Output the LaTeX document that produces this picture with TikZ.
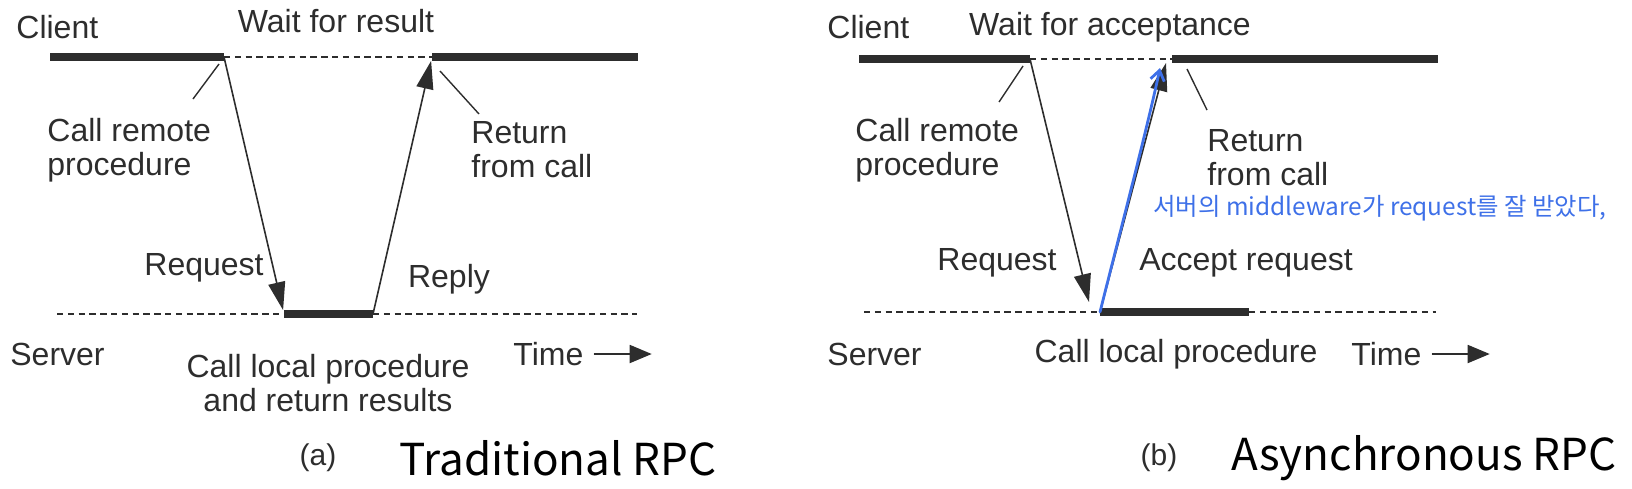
\documentclass[tikz,border=0pt]{standalone}
\usepackage{fontspec}
\setmainfont{Liberation Sans}
\newfontfamily\krfont{Noto Sans CJK KR}
\usetikzlibrary{arrows.meta, calc}
\definecolor{inkgray}{RGB}{45,45,45}
\definecolor{penblue}{RGB}{62,112,232}
\tikzset{
    lbl/.style={font=\fontsize{16}{17}\selectfont, text=inkgray, align=left, inner sep=0pt},
    midlbl/.style={lbl, align=center},
    bar/.style={line width=3.6pt, draw=inkgray},
    waitline/.style={line width=0.7pt, draw=inkgray, dash pattern=on 3.2pt off 2.2pt},
    msg/.style={-{Triangle[length=14pt, width=8.5pt]}, line width=0.8pt, draw=inkgray, fill=inkgray},
    leader/.style={line width=0.7pt, draw=inkgray},
    timearrow/.style={-{Triangle[length=11pt, width=9pt]}, line width=0.9pt, draw=inkgray, fill=inkgray},
    tag/.style={font=\fontsize{15}{17}\selectfont, text=inkgray, inner sep=0pt},
    caption/.style={font=\krfont\fontsize{22}{24}\selectfont, text=black, inner sep=0pt, anchor=west},
    penline/.style={-{Straight Barb[length=5pt, width=7pt]}, line width=1.4pt, draw=penblue, line cap=round},
    pennote/.style={font=\krfont\fontsize{12.2}{14}\selectfont, text=penblue, inner sep=0pt, anchor=west},
}

\begin{document}
\begin{tikzpicture}[x=0.5pt, y=-0.5pt]
    \useasboundingbox (0,0) rectangle (1632,488);
    % (a) traditional RPC
    \coordinate (cA0) at (50,57);  \coordinate (cA1) at (224,57);
    \coordinate (cA2) at (432,57); \coordinate (cA3) at (638,57);
    \coordinate (sA0) at (57,314);  \coordinate (sA1) at (284,314);
    \coordinate (sA2) at (373,314); \coordinate (sA3) at (637,314);
    \draw[bar] (cA0) -- (cA1);
    \draw[waitline] (cA1) -- (cA2);
    \draw[bar] (cA2) -- (cA3);
    \draw[waitline] (sA0) -- (sA1);
    \draw[bar] (sA1) -- (sA2);
    \draw[waitline] (sA2) -- (sA3);
    \draw[msg, shorten >=2pt] (cA1) -- (sA1);
    \draw[msg, shorten >=2pt] (sA2) -- (cA2);

    \node[lbl, anchor=west] (clientA) at (16,27) {Client};
    \node[midlbl] (waitA) at (336,21) {Wait for result};
    \node[lbl, anchor=west] (callA) at (47,150) {Call remote\\procedure};
    \node[lbl, anchor=west] (retA) at (471,150) {Return\\from call};
    \node[midlbl] (reqA) at (204,268) {Request};
    \node[midlbl] (repA) at (449,279) {Reply};
    \node[lbl, anchor=west] (serverA) at (10,354) {Server};
    \node[midlbl] (localA) at (328,383) {Call local procedure\\and return results};
    \node[lbl, anchor=west] (timeA) at (513,354) {Time};
    \coordinate (lcA0) at (219,64);  \coordinate (lcA1) at (193,99);
    \coordinate (lrA0) at (440,71);  \coordinate (lrA1) at (479,114);
    \draw[leader] (lcA0) -- (lcA1);
    \draw[leader] (lrA0) -- (lrA1);
    \draw[timearrow] ([xshift=5pt]timeA.east) -- ++(58,0);

    \node[tag] (tagA) at (318,458) {(a)};
    \node[caption] (capA) at (399,458) {Traditional RPC};

    % (b) asynchronous RPC
    \coordinate (cB0) at (859,59);  \coordinate (cB1) at (1030,59);
    \coordinate (cB2) at (1172,59); \coordinate (cB3) at (1438,59);
    \coordinate (sB0) at (864,312);  \coordinate (sB1) at (1100,312);
    \coordinate (sB2) at (1249,312); \coordinate (sB3) at (1436,312);
    \draw[bar] (cB0) -- (cB1);
    \draw[waitline] (cB1) -- (cB2);
    \draw[bar] (cB2) -- (cB3);
    \draw[waitline] (sB0) -- (sB1);
    \draw[bar] (sB1) -- (sB2);
    \draw[waitline] (sB2) -- (sB3);
    \coordinate (reqTipB) at (1089,302);
    \coordinate (accTipB) at (1166,63);
    \draw[msg] (cB1) -- (reqTipB);
    \draw[msg] (sB1) -- (accTipB);

    \node[lbl, anchor=west] (clientB) at (827,27) {Client};
    \node[midlbl] (waitB) at (1110,27) {Wait for acceptance};
    \node[lbl, anchor=west] (callB) at (855,150) {Call remote\\procedure};
    \node[lbl, anchor=west] (retB) at (1207,158) {Return\\from call};
    \node[midlbl] (reqB) at (997,263) {Request};
    \node[midlbl] (accB) at (1246,263) {Accept request};
    \node[lbl, anchor=west] (serverB) at (827,354) {Server};
    \node[midlbl] (localB) at (1176,354) {Call local procedure};
    \node[lbl, anchor=west] (timeB) at (1351,354) {Time};
    \coordinate (lcB0) at (1023,66);  \coordinate (lcB1) at (999,102);
    \coordinate (lrB0) at (1187,69);  \coordinate (lrB1) at (1207,110);
    \draw[leader] (lcB0) -- (lcB1);
    \draw[leader] (lrB0) -- (lrB1);
    \draw[timearrow] ([xshift=5pt]timeB.east) -- ++(58,0);

    \node[tag] (tagB) at (1159,458) {(b)};
    \node[caption] (capB) at (1231,458) {Asynchronous RPC};

    % handwritten note
    \coordinate (penTip) at (1160,68);
    \draw[penline] (sB1) .. controls (1118,240) and (1148,125) .. (penTip);
    \node[pennote] (noteB) at (1153,208) {서버의 middleware가 request를 잘 받았다,};
\end{tikzpicture}
\end{document}
